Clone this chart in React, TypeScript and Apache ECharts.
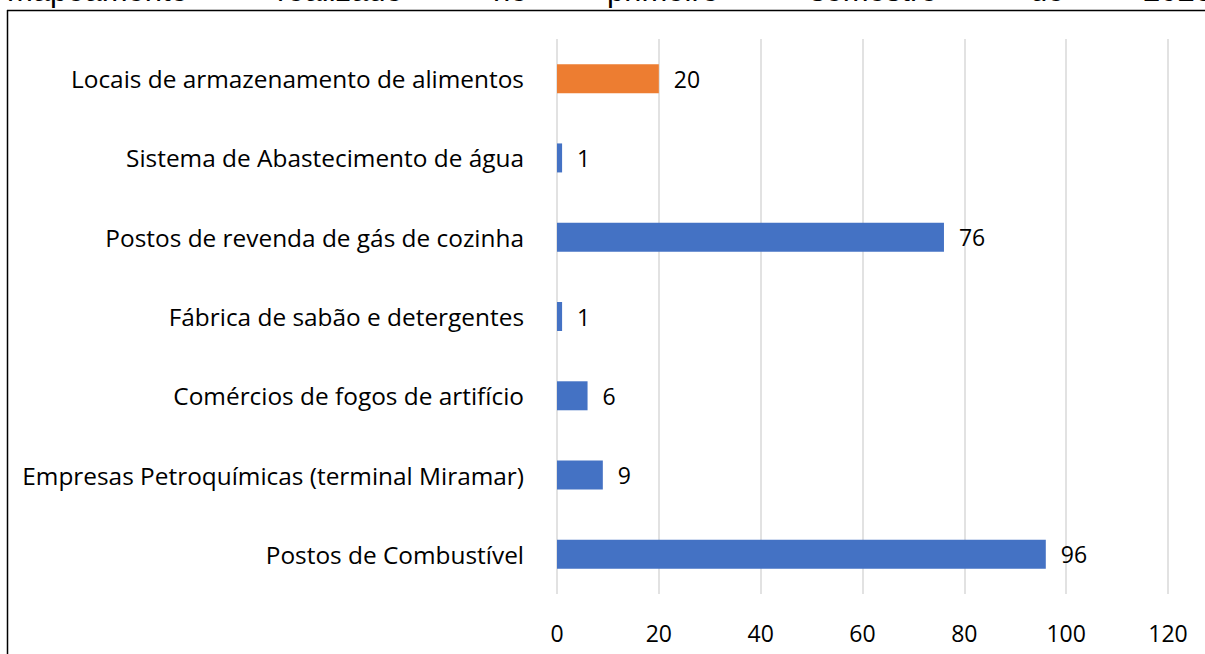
import React, { useEffect, useRef } from "react";
import * as echarts from "echarts";

const categories = [
  "Postos de Combustível",
  "Empresas Petroquímicas (terminal Miramar)",
  "Comércios de fogos de artifício",
  "Fábrica de sabão e detergentes",
  "Postos de revenda de gás de cozinha",
  "Sistema de Abastecimento de água",
  "Locais de armazenamento de alimentos",
];
const values = [96, 9, 6, 1, 76, 1, 20];
const highlightIndex = 6;
const xTicks = [0, 20, 40, 60, 80, 100, 120];
const headerWords = ["mapeamento", "realizado", "no", "primeiro", "semestre", "de", "2020"];
const headerX = [7, 277, 493, 607, 810, 1030, 1143];

export default function App() {
  const ref = useRef<HTMLDivElement>(null);
  useEffect(() => {
    const chart = echarts.init(ref.current!, null, { renderer: "svg" });
    const font = "'Open Sans', Lato, sans-serif";
    chart.setOption({
      animation: false,
      backgroundColor: "#ffffff",
      grid: { left: 557, right: 37, top: 39, bottom: 60, containLabel: false },
      xAxis: {
        type: "value",
        min: xTicks[0],
        max: xTicks[xTicks.length - 1],
        interval: 20,
        axisLine: { show: false },
        axisTick: { show: false },
        axisLabel: { color: "#000", fontSize: 23, fontFamily: font, margin: 27 },
        splitLine: { show: true, lineStyle: { color: "#d9d9d9", width: 1.5 } },
      },
      yAxis: {
        type: "category",
        data: categories,
        axisLine: { show: false },
        axisTick: { show: false },
        axisLabel: { color: "#000", fontSize: 24.4, fontFamily: font, margin: 33 },
      },
      series: [
        {
          type: "bar",
          data: values.map((v, i) => ({
            value: v,
            itemStyle: { color: i === highlightIndex ? "#ed7d31" : "#4472c4" },
          })),
          barWidth: 29,
          label: {
            show: true,
            position: "right",
            distance: 15,
            color: "#000",
            fontSize: 23,
            fontFamily: font,
          },
        },
      ],
      graphic: [
        ...headerWords.map((w, i) => ({
          type: "text",
          x: headerX[i],
          y: 6,
          style: {
            text: w,
            fill: "#000",
            font: "31px 'Liberation Sans', Arial, sans-serif",
            textVerticalAlign: "bottom",
          },
        })),
        {
          type: "line",
          shape: { x1: 7, y1: 10.5, x2: 1205, y2: 10.5 },
          style: { stroke: "#000", lineWidth: 1.5 },
        },
        {
          type: "line",
          shape: { x1: 7.5, y1: 10, x2: 7.5, y2: 654 },
          style: { stroke: "#000", lineWidth: 1.5 },
        },
      ],
    });
    return () => chart.dispose();
  }, []);
  return (
    <div
      ref={ref}
      style={{ position: "fixed", left: 0, top: 0, width: 1205, height: 654 }}
    />
  );
}
